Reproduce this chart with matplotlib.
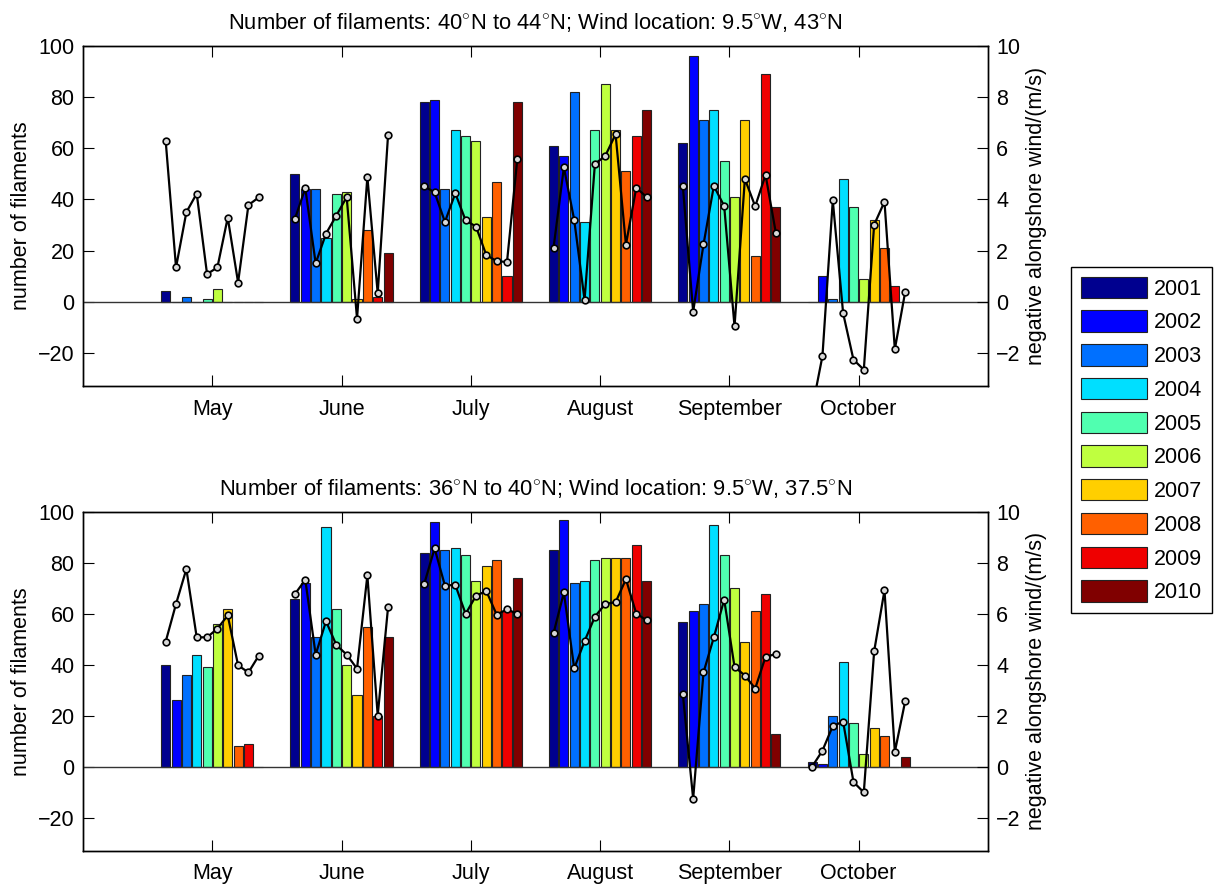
import matplotlib
matplotlib.use("Agg")
import matplotlib.pyplot as plt
import numpy as np

plt.rcParams["font.family"] = ["Liberation Sans", "DejaVu Sans"]
plt.rcParams["font.size"] = 15.5
plt.rcParams["mathtext.fontset"] = "custom"
plt.rcParams["mathtext.rm"] = "Liberation Sans"

months = ["May", "June", "July", "August", "September", "October"]
years = ["2001", "2002", "2003", "2004", "2005", "2006", "2007", "2008", "2009", "2010"]
year_colors = ["#00008f", "#0000ff", "#0070ff", "#00dfff", "#50ffb0",
               "#bfff3f", "#ffcf00", "#ff6000", "#ef0000", "#800000"]

# top panel: 40N-44N filaments, wind at 9.5W 43N (rows = months, cols = years)
top_counts = [
    [4, 0, 2, 0, 1, 5, 0, 0, 0, 0],
    [50, 44, 44, 25, 42, 43, 1, 28, 2, 19],
    [78, 79, 44, 67, 65, 63, 33, 47, 10, 78],
    [61, 57, 82, 31, 67, 85, 67, 51, 65, 75],
    [62, 96, 71, 75, 55, 41, 71, 18, 89, 37],
    [0, 10, 1, 48, 37, 9, 32, 21, 6, 0],
]
top_wind = [
    [6.29, 1.34, 3.50, 4.23, 1.08, 1.34, 3.29, 0.75, 3.78, 4.08],
    [3.25, 4.44, 1.50, 2.66, 3.37, 4.09, -0.66, 4.88, 0.33, 6.52],
    [4.51, 4.28, 3.12, 4.24, 3.18, 2.94, 1.82, 1.59, 1.55, 5.59],
    [2.11, 5.25, 3.20, 0.07, 5.39, 5.70, 6.55, 2.23, 4.46, 4.09],
    [4.53, -0.39, 2.24, 4.53, 3.74, -0.97, 4.80, 3.73, 4.96, 2.68],
    [-4.2, -2.13, 3.96, -0.45, -2.27, -2.66, 3.01, 3.91, -1.86, 0.38],
]

# bottom panel: 36N-40N filaments, wind at 9.5W 37.5N
bottom_counts = [
    [40, 26, 36, 44, 39, 56, 62, 8, 9, 0],
    [66, 72, 51, 94, 62, 40, 28, 55, 20, 51],
    [84, 96, 85, 86, 83, 73, 79, 81, 61, 74],
    [85, 97, 72, 73, 81, 82, 82, 82, 87, 73],
    [57, 61, 64, 95, 83, 70, 49, 61, 68, 13],
    [2, 1, 20, 41, 17, 5, 15, 12, 0, 4],
]
bottom_wind = [
    [4.91, 6.39, 7.76, 5.08, 5.08, 5.42, 5.94, 3.98, 3.70, 4.36],
    [6.78, 7.34, 4.40, 5.71, 4.78, 4.40, 3.85, 7.51, 2.01, 6.26],
    [7.18, 8.57, 7.11, 7.14, 6.00, 6.71, 6.90, 5.97, 6.18, 6.00],
    [5.24, 6.84, 3.86, 4.93, 5.89, 6.39, 6.46, 7.36, 6.01, 5.75],
    [2.86, -1.26, 3.70, 5.08, 6.56, 3.92, 3.58, 3.07, 4.32, 4.42],
    [0.0, 0.63, 1.60, 1.77, -0.60, -1.01, 4.53, 6.93, 0.58, 2.57],
]

titles = [
    r"Number of filaments: 40$^{\circ}$N to 44$^{\circ}$N; Wind location: 9.5$^{\circ}$W, 43$^{\circ}$N",
    r"Number of filaments: 36$^{\circ}$N to 40$^{\circ}$N; Wind location: 9.5$^{\circ}$W, 37.5$^{\circ}$N",
]


def draw_panel(ax, counts, wind, title):
    counts = np.array(counts)
    wind = np.array(wind)
    month_x = np.arange(5, 5 + len(months))
    offsets = (np.arange(len(years)) - 4.5) * 0.08

    for j, year in enumerate(years):
        ax.bar(month_x + offsets[j], counts[:, j], width=0.07, color=year_colors[j],
               edgecolor="#222222", linewidth=0.8, label=year, zorder=2)
    ax.axhline(0, color="#333333", lw=1.0, zorder=3)

    ax2 = ax.twinx()
    for i, m in enumerate(month_x):
        ax2.plot(m + offsets, wind[i], color="black", lw=1.6, marker="o", ms=4.8,
                 mfc="#d8d8d8", mec="black", mew=1.2, zorder=4)

    ax.set_xlim(4, 11)
    ax.set_ylim(-33, 100)
    ax2.set_ylim(-3.3, 10)
    ax.set_xticks(month_x)
    ax.set_xticklabels(months)
    ax.set_yticks(np.arange(-20, 101, 20))
    ax2.set_yticks(np.arange(-2, 11, 2))
    ax.tick_params(direction="in", length=8, top=True, pad=6)
    ax.tick_params(axis="x", pad=9)
    ax2.tick_params(direction="in", length=8, pad=6)
    ax.set_ylabel("number of filaments")
    ax2.set_ylabel("negative alongshore wind/(m/s)")
    ax.set_title(title, fontsize=15.8, pad=12)
    for sp in list(ax.spines.values()) + list(ax2.spines.values()):
        sp.set_linewidth(1.0)
    return ax2


fig = plt.figure(figsize=(12.18, 8.86), dpi=100)
ax_top = fig.add_axes([0.0681, 0.5643, 0.743, 0.3837])
ax_bot = fig.add_axes([0.0681, 0.0398, 0.743, 0.3823])

draw_panel(ax_top, top_counts, top_wind, titles[0])
draw_panel(ax_bot, bottom_counts, bottom_wind, titles[1])

handles, labels = ax_top.get_legend_handles_labels()
leg = fig.legend(handles, labels, loc="upper left", bbox_to_anchor=(1071 / 1218, 1 - 267 / 886),
                 fontsize=15.5, frameon=True, fancybox=False, edgecolor="black",
                 framealpha=1, handlelength=3.1, handleheight=1.15, labelspacing=0.5,
                 borderaxespad=0, borderpad=0.45, handletextpad=0.3)
leg.get_frame().set_linewidth(1.0)

fig.savefig("out.png", dpi=100)
